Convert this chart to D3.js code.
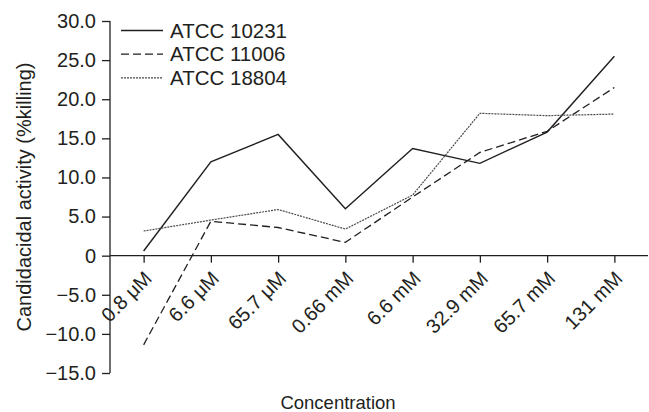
<!DOCTYPE html>
<html><head><meta charset="utf-8">
<script src="https://cdn.jsdelivr.net/npm/d3@7"></script>
<style>body{margin:0;background:#fff}svg{display:block}text{font-family:"Liberation Sans",Arial,Helvetica,sans-serif;fill:#231f20}</style>
</head><body>
<script>
const categories = ["0.8 μM","6.6 μM","65.7 μM","0.66 mM","6.6 mM","32.9 mM","65.7 mM","131 mM"];
const seriesNames = ["ATCC 10231","ATCC 11006","ATCC 18804"];
const atcc10231 = [0.6, 12.0, 15.5, 6.0, 13.7, 11.8, 15.8, 25.5];
const atcc11006 = [-11.4, 4.4, 3.6, 1.7, 7.5, 13.2, 15.9, 21.5];
const atcc18804 = [3.15, 4.55, 5.9, 3.4, 7.75, 18.2, 17.9, 18.1];
const yTicks = [-15, -10, -5, 0, 5, 10, 15, 20, 25, 30];
const yLabel = "Candidacidal activity (%killing)";
const xLabel = "Concentration";

const W = 649, H = 412;
const svg = d3.select("body").append("svg").attr("width", W).attr("height", H);
const ink = "#231f20";
const fs = 20;
const ff = '"Liberation Sans",Arial,sans-serif';

const x = d3.scalePoint().domain(categories).range([110, 648]).padding(0.5);
const y = d3.scaleLinear().domain([-15, 30]).range([373, 21]);

// y axis
const yAxis = svg.append("g").attr("transform", "translate(110,0)")
  .call(d3.axisLeft(y).tickValues(yTicks).tickSize(8).tickPadding(6)
    .tickFormat(d => d === 0 ? "0" : (d < 0 ? "\u2212" + Math.abs(d).toFixed(1) : d.toFixed(1))));
yAxis.select(".domain").attr("d", `M0,${y(30)}V${y(-15)}`).attr("stroke", ink).attr("stroke-width", 1.3);
yAxis.selectAll(".tick line").attr("stroke", ink).attr("stroke-width", 1.3);
yAxis.selectAll(".tick text").attr("font-size", fs).attr("font-family", ff).attr("fill", ink);

// x axis at y=0
const xAxis = svg.append("g").attr("transform", `translate(0,${y(0)})`)
  .call(d3.axisBottom(x).tickSize(7).tickSizeOuter(0));
xAxis.select(".domain").attr("d", `M110,0H648`).attr("stroke", ink).attr("stroke-width", 1.3);
xAxis.selectAll(".tick line").attr("stroke", ink).attr("stroke-width", 1.3);
xAxis.selectAll(".tick text")
  .attr("font-size", fs).attr("font-family", ff).attr("fill", ink)
  .attr("text-anchor", "end").attr("dy", "0.35em").attr("y", 0)
  .attr("transform", "translate(4,19) rotate(-45)");

// lines
const line = d3.line().x((d, i) => x(categories[i])).y(d => y(d));
const styles = [
  {data: atcc10231, dash: null, w: 1.4, c: "#231f20"},
  {data: atcc11006, dash: "8,4", w: 1.3, c: "#231f20"},
  {data: atcc18804, dash: "2,1", w: 1.2, c: "#4a4a4a"}
];
styles.forEach(s => {
  svg.append("path").datum(s.data).attr("d", line).attr("fill", "none")
    .attr("stroke", s.c).attr("stroke-width", s.w).attr("stroke-dasharray", s.dash);
});

// legend
const lg = svg.append("g");
seriesNames.forEach((n, i) => {
  const yy = 30.5 + i * 23.7;
  lg.append("line").attr("x1", 121).attr("x2", 163).attr("y1", yy).attr("y2", yy)
    .attr("stroke", styles[i].c).attr("stroke-width", styles[i].w).attr("stroke-dasharray", styles[i].dash);
  lg.append("text").attr("x", 170).attr("y", yy + 7).attr("font-size", fs + 0.5).text(n);
});

// axis titles
svg.append("text").attr("transform", `translate(31,${(y(30) + y(-15)) / 2}) rotate(-90)`)
  .attr("text-anchor", "middle").attr("font-size", fs).text(yLabel);
svg.append("text").attr("x", 338).attr("y", 409).attr("text-anchor", "middle").attr("font-size", 18.5).text(xLabel);
</script>
</body></html>
